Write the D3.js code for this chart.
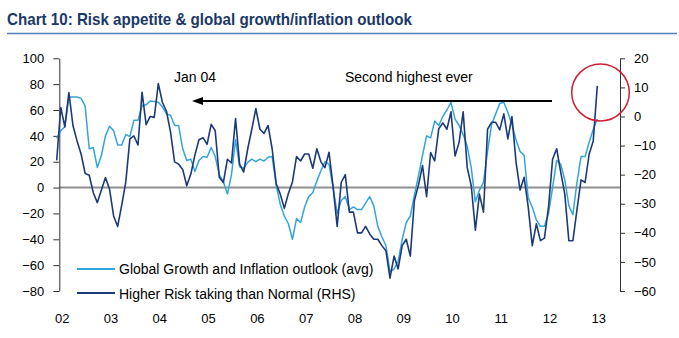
<!DOCTYPE html>
<html>
<head>
<meta charset="utf-8">
<script src="https://cdn.jsdelivr.net/npm/d3@7"></script>
<style>
  html, body { margin: 0; padding: 0; background: #fff; }
  svg { display: block; }
  text { font-family: "Liberation Sans", Arial, Helvetica, sans-serif; }
</style>
</head>
<body>
<svg id="chart" width="679" height="338"></svg>
<script>
// ---- DATA (monthly, Dec 2001 .. Jan 2013) ----
// Global Growth and Inflation outlook (avg), left axis
const growthOutlook = [
  38, 44, 47, 70, 70, 70, 69, 63, 30, 31, 15.5, 25, 40, 47.5, 44, 33, 33, 41, 39.5, 52,
  52, 63.5, 64, 67, 66.5, 66, 62.5, 57, 56, 48, 48, 30, 21, 22, 12.5, 21, 24, 23.5, 31, 24,
  10, 4.5, -5, 10, 37, 16, 15, 19.5, 22, 20, 22, 20.5, 23.5, 24, 2, -13, -22, -28, -40, -24,
  -27, -15, -7, -4, 5, 13, 20, 18, 0, -20, -10, -7, -17, -15, -17, -17, -12, -7, -14, -30,
  -38, -45, -65, -63, -57, -40, -27, -22, -6, 9, 25, 40, 38.5, 51.5, 48, 55, 60, 66, 53, 48,
  41, 32, 15, -11, -2, 4, 28, 49, 57, 65, 66, 58, 49, 37, 28, 25, -8, -15, -25, -30,
  -30, -20, 0, 21, 18, 6, -14, -21, 4, 24, 24, 35, 45, 53
];
// Higher Risk taking than Normal (RHS), right axis
const riskTaking = [
  -15.1, 3.1, -3.6, 8.2, -3.1, -8.4, -12.9, -19.6, -20.2, -26.2, -29.6, -25.3, -21.0, -25.0, -34.2, -37.8, -30.5, -22.5, -7.7, -6.7,
  -9.8, 8.3, -2.8, 0, -0.3, 11.3, 4.9, 1.8, -5.3, -15.6, -16.4, -18.2, -23.8, -19.8, -13.3, -8.0, -7.3, -9.6, -2.7, -4.9,
  -20.9, -22.7, -14.7, -16.0, -0.7, -16.4, -19.1, -11.1, -4.4, 2.7, -4.4, -5.8, -3.1, -11.1, -23.1, -26.7, -31.6, -26.5, -22.5, -13.8,
  -15.3, -12.9, -12.9, -17.8, -11.1, -15.6, -17.6, -12.3, -24.2, -37.8, -22.7, -20.0, -32.9, -32.9, -40.0, -40.0, -37.8, -40.4, -42.2, -42.2,
  -44.4, -46.2, -55.6, -48.0, -52.4, -44.4, -42.2, -48.0, -28.9, -23.6, -16.9, -27.6, -12.4, -15.3, -4.2, -2.2, -4.4, 1.6, -13.6, -8.9,
  1.6, -17.6, -23.9, -39.1, -26.7, -32.9, -4.4, -2.0, -2.0, -4.6, 0.9, -7.7, 0, -15.6, -25.3, -20.9, -31.1, -44.4, -36.9, -42.7,
  -41.8, -31.1, -14.7, -11.1, -19.1, -26.7, -42.7, -42.7, -32.0, -21.8, -22.7, -12.9, -8.4, 10.5
];
const yearLabels = ["02", "03", "04", "05", "06", "07", "08", "09", "10", "11", "12", "13"];
const leftTicks = [100, 80, 60, 40, 20, 0, -20, -40, -60, -80];
const rightTicks = [20, 10, 0, -10, -20, -30, -40, -50, -60];
const seriesNames = ["Global Growth and Inflation outlook (avg)", "Higher Risk taking than Normal (RHS)"];
const titleText = "Chart 10: Risk appetite & global growth/inflation outlook";
const annotations = ["Jan 04", "Second highest ever"];

// ---- LAYOUT ----
const svg = d3.select("#chart");
const colLight = "#35a4dc", colDark = "#1d3a78";
const plotTop = 58.3, plotBottom = 291, axisLeftX = 59.3, axisRightX = 620;

const x = d3.scaleLinear().domain([0, growthOutlook.length - 1]).range([56.7, 597.3]);
const yL = d3.scaleLinear().domain([-80, 100]).range([plotBottom, plotTop]);
const yR = d3.scaleLinear().domain([-60, 20]).range([plotBottom, plotTop]);

// Title
svg.append("text")
  .attr("x", 7).attr("y", 25)
  .attr("font-size", 17).attr("font-weight", "bold")
  .attr("fill", "#1b3868")
  .attr("textLength", 405).attr("lengthAdjust", "spacingAndGlyphs")
  .text(titleText);
svg.append("line")
  .attr("x1", 7).attr("x2", 677).attr("y1", 33.5).attr("y2", 33.5)
  .attr("stroke", "#4f7fbc").attr("stroke-width", 1.5);

// Zero line
svg.append("line")
  .attr("x1", axisLeftX).attr("x2", axisRightX)
  .attr("y1", yL(0)).attr("y2", yL(0))
  .attr("stroke", "#8f8f8f").attr("stroke-width", 2);

// Left axis
const leftAxis = d3.axisLeft(yL).tickValues(leftTicks).tickSize(6).tickPadding(9).tickSizeOuter(0);
const gL = svg.append("g").attr("transform", `translate(${axisLeftX},0)`).call(leftAxis);
// Right axis
const rightAxis = d3.axisRight(yR).tickValues(rightTicks).tickSize(5).tickPadding(9).tickSizeOuter(0);
const gR = svg.append("g").attr("transform", `translate(${axisRightX},0)`).call(rightAxis);
[gL, gR].forEach(g => {
  g.select(".domain").attr("stroke", "#333").attr("stroke-width", 1);
  g.selectAll(".tick line").attr("stroke", "#333");
  g.selectAll(".tick text").attr("font-size", 13).attr("fill", "#000")
    .attr("font-family", "'Liberation Sans', Arial, sans-serif");
});

// X axis labels (Jan of each year)
const xAxis = d3.axisBottom(x)
  .tickValues(yearLabels.map((d, i) => 1 + 12 * i))
  .tickFormat((d, i) => yearLabels[i])
  .tickSize(0).tickPadding(0);
const gX = svg.append("g").attr("transform", `translate(1,314)`).call(xAxis);
gX.select(".domain").remove();
gX.selectAll(".tick text").attr("font-size", 13).attr("fill", "#000")
  .attr("font-family", "'Liberation Sans', Arial, sans-serif");

// Lines
const lineL = d3.line().x((d, i) => x(i)).y(d => yL(d));
const lineR = d3.line().x((d, i) => x(i)).y(d => yR(d));
svg.append("path").datum(growthOutlook).attr("d", lineL)
  .attr("fill", "none").attr("stroke", colLight).attr("stroke-width", 1.5).attr("stroke-linejoin", "round");
svg.append("path").datum(riskTaking).attr("d", lineR)
  .attr("fill", "none").attr("stroke", colDark).attr("stroke-width", 1.6).attr("stroke-linejoin", "round");

// Legend
const legend = svg.append("g");
[[colLight, 269, 274], [colDark, 293, 298.5]].forEach((d, i) => {
  legend.append("line").attr("x1", 77).attr("x2", 115).attr("y1", d[1]).attr("y2", d[1])
    .attr("stroke", d[0]).attr("stroke-width", 2);
  legend.append("text").attr("x", 119).attr("y", d[2]).attr("font-size", 14).attr("fill", "#000")
    .text(seriesNames[i]);
});

// Annotations
svg.append("text").attr("x", 174).attr("y", 82).attr("font-size", 14).attr("fill", "#000").text(annotations[0]);
svg.append("text").attr("x", 345).attr("y", 82).attr("font-size", 14).attr("fill", "#000").text(annotations[1]);
const defs = svg.append("defs");
defs.append("marker").attr("id", "arrow").attr("viewBox", "0 0 10 8")
  .attr("refX", 0).attr("refY", 4).attr("markerWidth", 10).attr("markerHeight", 8)
  .attr("markerUnits", "userSpaceOnUse").attr("orient", "auto-start-reverse")
  .append("path").attr("d", "M10,0 L0,4 L10,8 Z").attr("fill", "#000");
svg.append("line").attr("x1", 202).attr("x2", 552).attr("y1", 101).attr("y2", 101)
  .attr("stroke", "#000").attr("stroke-width", 2);
svg.append("path").attr("d", "M192,101 L203,97 L203,105 Z").attr("fill", "#000");

// Highlight circle
svg.append("ellipse").attr("cx", 600.5).attr("cy", 92.5).attr("rx", 28.8).attr("ry", 28.5)
  .attr("fill", "none").attr("stroke", "#d21f35").attr("stroke-width", 1.5);
</script>
</body>
</html>
